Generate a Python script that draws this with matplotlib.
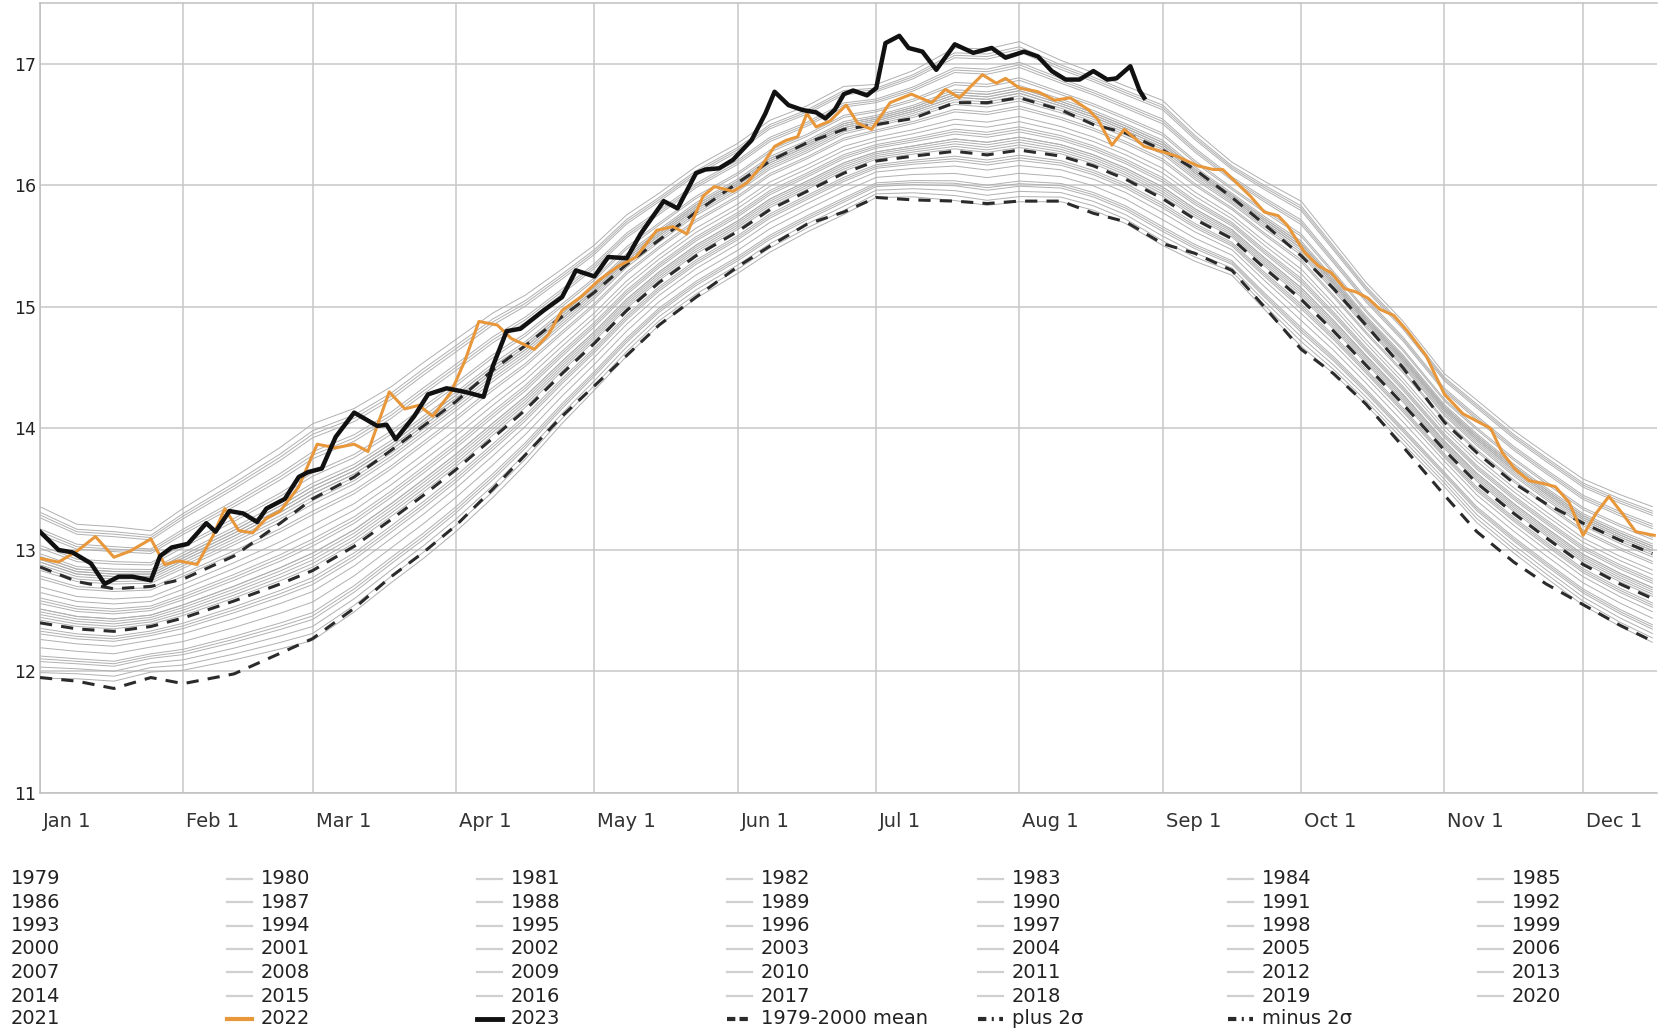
import matplotlib
matplotlib.use('Agg')
import matplotlib.pyplot as plt
import matplotlib.transforms as mtransforms
from matplotlib.lines import Line2D
import numpy as np

# ---- data (day of year, deg C) ----
clim_days = [0, 8, 16, 24, 31, 42, 52, 59, 68, 76, 83, 90, 98, 105, 113, 120,
             127, 134, 142, 151, 158, 166, 174, 181, 189, 198, 205, 212, 221,
             228, 235, 243, 250, 258, 265, 273, 280, 287, 295, 304, 311, 319,
             326, 334, 342, 349]
mean_1979_2000 = [12.40, 12.35, 12.33, 12.37, 12.44, 12.58, 12.72, 12.83, 13.03,
                  13.25, 13.45, 13.66, 13.92, 14.15, 14.45, 14.70, 14.97, 15.20,
                  15.42, 15.62, 15.80, 15.95, 16.10, 16.20, 16.24, 16.28, 16.25,
                  16.29, 16.24, 16.16, 16.05, 15.89, 15.72, 15.56, 15.32, 15.06,
                  14.80, 14.52, 14.20, 13.82, 13.55, 13.30, 13.10, 12.88, 12.72,
                  12.60]
plus_2sigma = [12.86, 12.74, 12.68, 12.70, 12.76, 12.95, 13.22, 13.42, 13.60,
               13.82, 14.02, 14.22, 14.48, 14.68, 14.92, 15.12, 15.35, 15.55,
               15.78, 16.02, 16.20, 16.35, 16.46, 16.50, 16.55, 16.68, 16.68,
               16.72, 16.62, 16.50, 16.43, 16.29, 16.13, 15.90, 15.68, 15.42,
               15.15, 14.85, 14.50, 14.05, 13.80, 13.55, 13.38, 13.22, 13.08,
               12.97]
minus_2sigma = [11.95, 11.92, 11.86, 11.95, 11.90, 11.98, 12.15, 12.27, 12.52,
                12.78, 12.98, 13.20, 13.50, 13.78, 14.10, 14.35, 14.60, 14.85,
                15.08, 15.33, 15.50, 15.68, 15.78, 15.90, 15.88, 15.87, 15.85,
                15.87, 15.87, 15.77, 15.70, 15.52, 15.44, 15.30, 15.00, 14.65,
                14.45, 14.20, 13.85, 13.45, 13.15, 12.90, 12.72, 12.55, 12.38,
                12.25]

days_2023 = [0, 4, 7, 11, 14, 17, 20, 24, 26, 28.5, 32, 36, 38, 41, 44, 47, 49,
             53, 56, 58, 61, 64, 68, 73, 75, 77, 81, 84, 88, 92, 96, 98, 101,
             104, 109, 113, 116, 120, 123, 127, 130, 135, 138, 142, 144, 147,
             150, 154, 157, 159, 162, 165, 168, 170, 172, 174, 176, 179, 181,
             183, 186, 188, 191, 194, 198, 202, 206, 209, 213, 216, 219, 222,
             225, 228, 231, 233, 236, 238, 239]
temp_2023 = [13.15, 13.00, 12.98, 12.89, 12.72, 12.78, 12.78, 12.75, 12.95,
             13.02, 13.05, 13.22, 13.15, 13.32, 13.30, 13.23, 13.34, 13.42,
             13.60, 13.64, 13.67, 13.93, 14.13, 14.02, 14.03, 13.91, 14.10,
             14.28, 14.33, 14.30, 14.26, 14.51, 14.80, 14.82, 14.97, 15.08,
             15.30, 15.25, 15.41, 15.40, 15.60, 15.87, 15.81, 16.10, 16.13,
             16.14, 16.21, 16.37, 16.59, 16.77, 16.66, 16.62, 16.60, 16.55,
             16.62, 16.75, 16.78, 16.74, 16.80, 17.17, 17.23, 17.13, 17.10,
             16.95, 17.16, 17.09, 17.13, 17.05, 17.10, 17.06, 16.94, 16.87,
             16.87, 16.94, 16.87, 16.88, 16.98, 16.78, 16.72]

days_2022 = [0, 4, 8, 12, 16, 19.5, 24, 27, 30, 34, 37.5, 40, 43, 46, 49, 52,
             56, 60, 64, 68, 71, 75.6, 79, 82, 85, 89, 92, 95, 99, 102, 107,
             110, 113, 117, 121, 125, 129, 133.5, 137, 140, 143.5, 146, 150,
             153, 156, 159, 161.5, 164, 166, 168, 171, 174.5, 177, 180, 182,
             184, 188.6, 193, 196, 199, 204, 207, 209, 212, 216, 219.6, 223,
             227, 229, 232, 234.7, 239, 242.6, 246, 250.6, 254, 256, 259, 262,
             265, 268, 270, 273.7, 276.6, 279.5, 282.4, 285, 287.5, 290, 293,
             296, 300, 304, 308, 311, 314, 316.5, 319.4, 322.3, 325, 328, 331,
             334, 336.8, 339.6, 342.5, 345.4, 349.4]
temp_2022 = [12.93, 12.90, 12.99, 13.11, 12.94, 12.99, 13.09, 12.88, 12.91,
             12.88, 13.12, 13.34, 13.16, 13.14, 13.26, 13.32, 13.52, 13.87,
             13.84, 13.87, 13.81, 14.30, 14.16, 14.19, 14.10, 14.30, 14.56,
             14.88, 14.85, 14.74, 14.65, 14.77, 14.97, 15.08, 15.22, 15.33,
             15.41, 15.63, 15.66, 15.60, 15.91, 15.99, 15.95, 16.02, 16.15,
             16.32, 16.37, 16.40, 16.59, 16.48, 16.53, 16.66, 16.51, 16.46,
             16.57, 16.68, 16.75, 16.68, 16.79, 16.72, 16.91, 16.84, 16.88,
             16.80, 16.77, 16.70, 16.72, 16.62, 16.54, 16.33, 16.46, 16.32,
             16.28, 16.24, 16.16, 16.13, 16.13, 16.02, 15.91, 15.78, 15.75,
             15.67, 15.45, 15.34, 15.28, 15.15, 15.12, 15.07, 14.98, 14.93,
             14.80, 14.60, 14.28, 14.12, 14.06, 14.00, 13.80, 13.66, 13.57,
             13.55, 13.52, 13.39, 13.12, 13.30, 13.44, 13.30, 13.15, 13.12]

# older years: position of each year inside the band, in sigma units
gray_years = list(range(1979, 2022))
gray_z = [-1.2, -0.4, 0.1, -1.4, 0.4, -1.3, -1.8, -0.9, 0.5, 0.7, -0.6, 0.8,
          0.5, -2.0, -1.6, -0.3, 0.9, -0.2, 1.1, 2.4, 0.3, 0.2, 1.6, 2.0, 2.1,
          1.7, 2.5, 2.2, 2.3, 1.3, 2.3, 2.8, 1.9, 2.2, 2.4, 2.7, 3.4, 4.2, 3.8,
          3.3, 3.9, 4.0, 3.2]

month_days = [0, 31, 59, 90, 120, 151, 181, 212, 243, 273, 304, 334]
month_labels = ['Jan 1', 'Feb 1', 'Mar 1', 'Apr 1', 'May 1', 'Jun 1',
                'Jul 1', 'Aug 1', 'Sep 1', 'Oct 1', 'Nov 1', 'Dec 1']
y_ticks = [11, 12, 13, 14, 15, 16, 17]

W, H = 1665, 1030
ORANGE = '#e8973a'
DASH = '#2b2b2b'


def main():
    fig = plt.figure(figsize=(W / 100, H / 100), dpi=100)
    ax = fig.add_axes([40 / W, 1 - 793 / H, (1657 - 40) / W, (793 - 3) / H])

    mean = np.array(mean_1979_2000)
    sig = (np.array(plus_2sigma) - np.array(minus_2sigma)) / 4

    for z in gray_z:
        ax.plot(clim_days, mean + z * sig, color='#b0b0b0', lw=0.7, zorder=2)

    ax.plot(clim_days, mean_1979_2000, color=DASH, lw=2.2,
            linestyle=(0, (4, 3)), zorder=3)
    ax.plot(clim_days, plus_2sigma, color=DASH, lw=2.2,
            linestyle=(0, (4, 3)), zorder=3)
    ax.plot(clim_days, minus_2sigma, color=DASH, lw=2.2,
            linestyle=(0, (4, 3)), zorder=3)
    ax.plot(days_2022, temp_2022, color=ORANGE, lw=2.2, zorder=4)
    ax.plot(days_2023, temp_2023, color='#111111', lw=3.2, zorder=5)

    ax.set_xlim(0, 350)
    ax.set_ylim(11, 17.5)
    ax.set_xticks(month_days)
    ax.set_xticklabels(month_labels, ha='left')
    ax.set_yticks(y_ticks)
    ax.set_yticklabels([str(t) for t in y_ticks])
    ax.tick_params(axis='x', length=0, pad=14, labelsize=14, labelcolor='#333333')
    ax.tick_params(axis='y', length=0, pad=3, labelsize=12.5, labelcolor='#222222')
    shift = mtransforms.ScaledTranslation(3 / 100, 0, fig.dpi_scale_trans)
    for lab in ax.get_xticklabels():
        lab.set_transform(lab.get_transform() + shift)

    ax.grid(True, color='#c8c8c8', lw=1.1)
    ax.set_axisbelow(True)
    for side in ['left', 'bottom', 'top']:
        ax.spines[side].set_color('#c0c0c0')
        ax.spines[side].set_linewidth(1.1)
    ax.spines['right'].set_visible(False)

    # legend, 7 columns laid out below the plot
    entries = [(str(y), dict(color='#d0d0d0', lw=1.6)) for y in gray_years]
    entries.append(('2022', dict(color=ORANGE, lw=3.0)))
    entries.append(('2023', dict(color='#111111', lw=3.5)))
    entries.append(('1979-2000 mean', dict(color=DASH, lw=3, linestyle=(0, (2, 1)))))
    entries.append(('plus 2σ', dict(color=DASH, lw=3, linestyle=(0, (2, 1.3, 0.5, 1.3)))))
    entries.append(('minus 2σ', dict(color=DASH, lw=3, linestyle=(0, (2, 1.3, 0.5, 1.3)))))

    col_x = [10.6, 261, 511, 761, 1012, 1262, 1512]
    row_y = [879, 902, 925.5, 949, 972, 996, 1019]
    for i, (label, style) in enumerate(entries):
        x = col_x[i % 7]
        y = row_y[i // 7]
        if i % 7 > 0:
            fig.add_artist(Line2D([(x - 34) / W, (x - 9) / W], [1 - y / H, 1 - y / H],
                                  transform=fig.transFigure, **style))
        fig.text(x / W, 1 - y / H, label, fontsize=14, color='#222222',
                 ha='left', va='center')

    fig.savefig('out.png', dpi=100)


if __name__ == '__main__':
    main()
